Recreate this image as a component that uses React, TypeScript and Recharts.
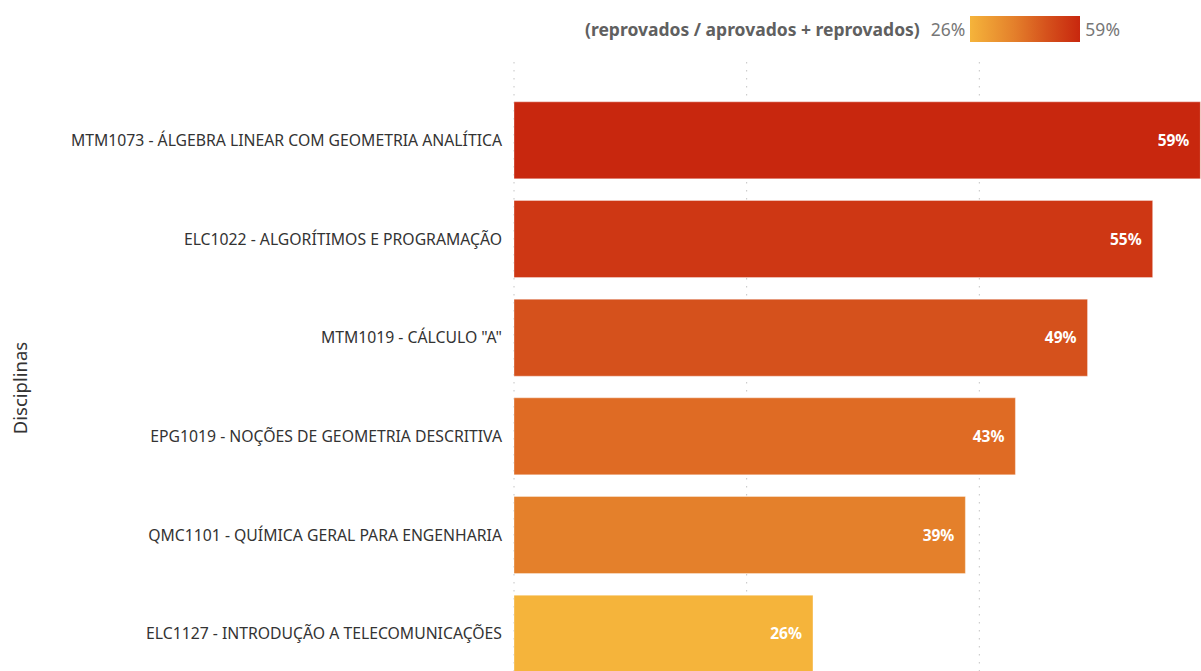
import { Bar, BarChart, CartesianGrid, Cell, LabelList, XAxis, YAxis } from "recharts";

const disciplinas = [
  "MTM1073 - ÁLGEBRA LINEAR COM GEOMETRIA ANALÍTICA",
  "ELC1022 - ALGORÍTIMOS E PROGRAMAÇÃO",
  'MTM1019 - CÁLCULO "A"',
  "EPG1019 - NOÇÕES DE GEOMETRIA DESCRITIVA",
  "QMC1101 - QUÍMICA GERAL PARA ENGENHARIA",
  "ELC1127 - INTRODUÇÃO A TELECOMUNICAÇÕES",
];
const taxaReprovacao = [59.0, 54.9, 49.3, 43.1, 38.8, 25.7];
const barColors = ["#C8270E", "#CE3714", "#D5511C", "#DF6B24", "#E4802B", "#F5B43B"];
const xTicks = [0, 20, 40, 60];

const FONT = "'Noto Sans', 'Open Sans', sans-serif";

const data = disciplinas.map((nome, i) => ({ nome, taxa: taxaReprovacao[i] }));

export default function App() {
  return (
    <div
      style={{
        position: "absolute",
        left: 0,
        top: 0,
        width: 1201,
        height: 671,
        overflow: "hidden",
        background: "#fff",
        fontFamily: FONT,
      }}
    >
      <BarChart
        width={1212}
        height={683}
        data={data}
        layout="vertical"
        margin={{ top: 62, right: 0, left: 0, bottom: 0 }}
        barCategoryGap="11%"
      >
        <CartesianGrid horizontal={false} stroke="#c4c4c4" strokeDasharray="1.5 6.5" />
        <XAxis type="number" domain={[0, 60]} ticks={xTicks} hide />
        <YAxis
          type="category"
          dataKey="nome"
          width={514}
          axisLine={false}
          tickLine={false}
          tickSize={0}
          tickMargin={12}
          padding={{ top: 29, bottom: 0 }}
          tick={{ fill: "#333", fontSize: 15.75, fontFamily: FONT }}
        />
        <Bar dataKey="taxa" isAnimationActive={false} stroke="rgba(255,255,255,0.35)">
          {data.map((d, i) => (
            <Cell key={d.nome} fill={barColors[i]} />
          ))}
          <LabelList
            dataKey="taxa"
            position="insideRight"
            offset={11}
            formatter={(v: number) => `${Math.round(v)}%`}
            style={{ fill: "#fff", fontSize: 15.5, fontWeight: 700, fontFamily: FONT }}
          />
        </Bar>
      </BarChart>

      <div
        style={{
          position: "absolute",
          left: 19,
          top: 388,
          transform: "translate(-50%, -50%) rotate(-90deg)",
          fontSize: 18.5,
          color: "#333",
          whiteSpace: "nowrap",
        }}
      >
        Disciplinas
      </div>

      <div
        style={{
          position: "absolute",
          left: 585,
          top: 16,
          height: 26,
          display: "flex",
          alignItems: "center",
          whiteSpace: "nowrap",
        }}
      >
        <span style={{ fontWeight: 700, fontSize: 17.5, color: "#606060" }}>
          (reprovados / aprovados + reprovados)
        </span>
        <span style={{ fontSize: 17.5, color: "#777", marginLeft: 11 }}>26%</span>
        <span
          style={{
            display: "inline-block",
            width: 110,
            height: 26,
            marginLeft: 5,
            background: "linear-gradient(to right, #F5B43B, #E4802B 40%, #D5511C 70%, #C8270E)",
          }}
        />
        <span style={{ fontSize: 17.5, color: "#777", marginLeft: 5 }}>59%</span>
      </div>
    </div>
  );
}
